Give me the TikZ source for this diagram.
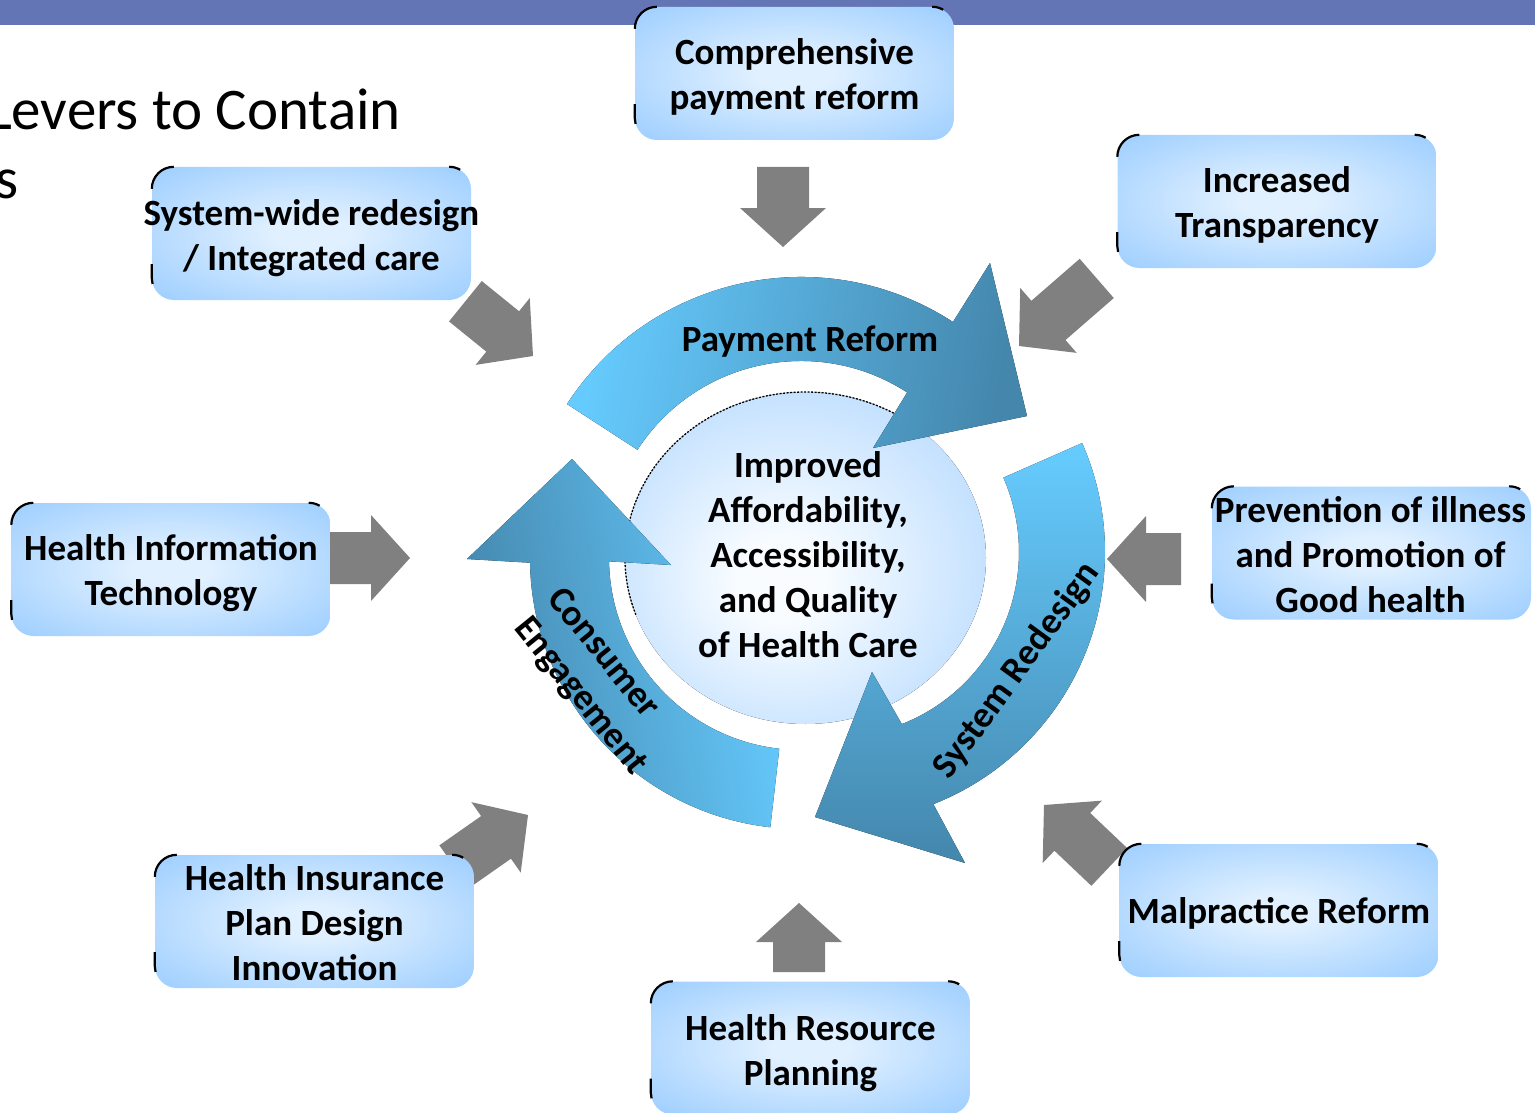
\documentclass[tikz,border=0pt]{standalone}
\usepackage{fontspec}
\setmainfont{Carlito}
\usetikzlibrary{calc}
\definecolor{barblue}{RGB}{99,117,181}
\definecolor{boxout}{RGB}{153,204,255}
\definecolor{boxin}{RGB}{224,240,255}
\definecolor{circin}{RGB}{248,252,255}
\definecolor{circmid}{RGB}{190,222,255}
\definecolor{arclight}{RGB}{102,204,255}
\definecolor{arcdark}{RGB}{68,134,172}
\definecolor{arrgray}{RGB}{128,128,128}
\pgfdeclareradialshading{boxshade}{\pgfpoint{0bp}{0bp}}{color(0bp)=(boxin); color(6bp)=(boxin); color(37bp)=(boxout); color(50bp)=(boxout)}
\pgfdeclareradialshading{circshade}{\pgfpoint{-4bp}{-4bp}}{color(0bp)=(circin); color(6bp)=(circin); color(30bp)=(circmid); color(48bp)=(boxout); color(50bp)=(boxout)}
\newcommand\grayarrow[4]{%
  \fill[arrgray, shift={(#1,#2)}, rotate=#3] (0,0) -- (-39,-43) -- (-39,-26) -- (-#4,-26) -- (-#4,26) -- (-39,26) -- (-39,43) -- cycle;}
\newcommand\boxcorners[1]{%
  \draw[line width=2.2] ([yshift=-22pt]#1.north west) arc[start angle=180, end angle=270, radius=22];
  \draw[line width=2.2] ([xshift=-22pt]#1.north east) arc[start angle=270, end angle=300, radius=22];
  \draw[line width=2.2] ([yshift=36pt]#1.south west) -- ([yshift=22pt]#1.south west) arc[start angle=180, end angle=165, radius=22];}
\tikzset{
  box/.style={rounded corners=22, minimum width=319, minimum height=133, shading=boxshade, inner sep=0},
  boxtext/.style={font=\bfseries\fontsize{37}{45}\selectfont, align=center, inner sep=0},
  lbl/.style={font=\bfseries\fontsize{37}{45}\selectfont, inner sep=0},
  titletext/.style={font=\fontsize{59}{68}\selectfont, inner sep=0, anchor=base east},
}
\begin{document}
\begin{tikzpicture}[x=1pt, y=-1pt]
\useasboundingbox (0,0) rectangle (1535,1113);
\clip (0,0) rectangle (1535,1113);
\fill[white] (0,0) rectangle (1535,1113);
% top bar
\fill[barblue] (0,0) rectangle (1535,25);
% title
\node[titletext] (title1) at (401,130) {Levers to Contain};
\node[titletext] (title2) at (19,198) {s};
% gray arrows
\grayarrow{783}{247}{-90}{80}
\grayarrow{533}{356}{-39}{87}
\grayarrow{1019}{346}{-139}{103}
\grayarrow{410}{558}{0}{85}
\grayarrow{1107}{559}{180}{74}
\grayarrow{528}{815}{35}{90}
\grayarrow{1044}{805}{136.5}{90}
\grayarrow{799}{903}{90}{69}
% boxes
\node[box] (b1) at (794.5,73.5) {};
\boxcorners{b1}
\node[boxtext] (t1) at (794.5,76.5) {Comprehensive\\payment reform};
\node[box] (b2) at (311.5,233.5) {};
\boxcorners{b2}
\node[boxtext] (t2) at (311.5,238) {System-wide redesign\\/ Integrated care};
\node[box] (b3) at (1277,201.5) {};
\boxcorners{b3}
\node[boxtext] (t3) at (1277,204.5) {Increased\\Transparency};
\node[box] (b4) at (171,569.5) {};
\boxcorners{b4}
\node[boxtext] (t4) at (171,573.5) {Health Information\\Technology};
\node[box] (b5) at (1371.5,553) {};
\boxcorners{b5}
\node[boxtext] (t5) at (1370.5,555) {Prevention of illness\\and Promotion of\\Good health};
\node[box] (b6) at (314.5,921.5) {};
\boxcorners{b6}
\node[boxtext] (t6) at (314.5,923) {Health Insurance\\Plan Design\\Innovation};
\node[box] (b7) at (1279,910.5) {};
\boxcorners{b7}
\node[boxtext] (t7) at (1279,913.5) {Malpractice Reform};
\node[box] (b8) at (810.5,1048) {};
\boxcorners{b8}
\node[boxtext] (t8) at (810.5,1053) {Health Resource\\Planning};
% central circle
\fill[shading=circshade] (805.5,558) ellipse [x radius=180.5, y radius=166];
\draw[line width=1.3, dash pattern=on 2pt off 1.5pt] ($(805.5,558)+(160:180.5 and 166)$) arc[start angle=160, end angle=300, x radius=180.5, y radius=166];
% circular arrows
\coordinate (P) at (801,556);
\coordinate (S) at (834,552);
\coordinate (C) at (801,558);
\fill[left color=arclight, right color=arcdark, shading angle=80]
  ($(P)+(-147:279)$) arc[start angle=-147, end angle=-57, radius=279]
  -- (990,263) -- (1027,416) -- (873,448)
  -- ($(P)+(-57:195)$) arc[start angle=-57, end angle=-147, radius=195] -- cycle;
\fill[top color=arclight, bottom color=arcdark]
  ($(S)+(-23.7:271)$) arc[start angle=-23.7, end angle=68.5, radius=271]
  -- (965,863) -- (815,817) -- (872,672)
  -- ($(S)+(68.5:185)$) arc[start angle=68.5, end angle=-23.7, radius=185] -- cycle;
\fill[left color=arcdark, right color=arclight, shading angle=100]
  ($(C)+(96.5:271)$) arc[start angle=96.5, end angle=179, radius=271]
  -- (467,559) -- (572,459) -- (671,565)
  -- ($(C)+(179:192)$) arc[start angle=179, end angle=96.5, radius=192] -- cycle;
% labels
\node[lbl] (pr) at (810,342) {Payment Reform};
\node[lbl, rotate=54] (sr) at (1017,671) {System Redesign};
\node[lbl, rotate=-51] (ce1) at (605,652) {Consumer};
\node[lbl, rotate=-51] (ce2) at (580,697) {Engagement};
\node[boxtext] (ctext) at (808,555) {Improved\\Affordability,\\Accessibility,\\and Quality\\of Health Care};
\end{tikzpicture}
\end{document}
